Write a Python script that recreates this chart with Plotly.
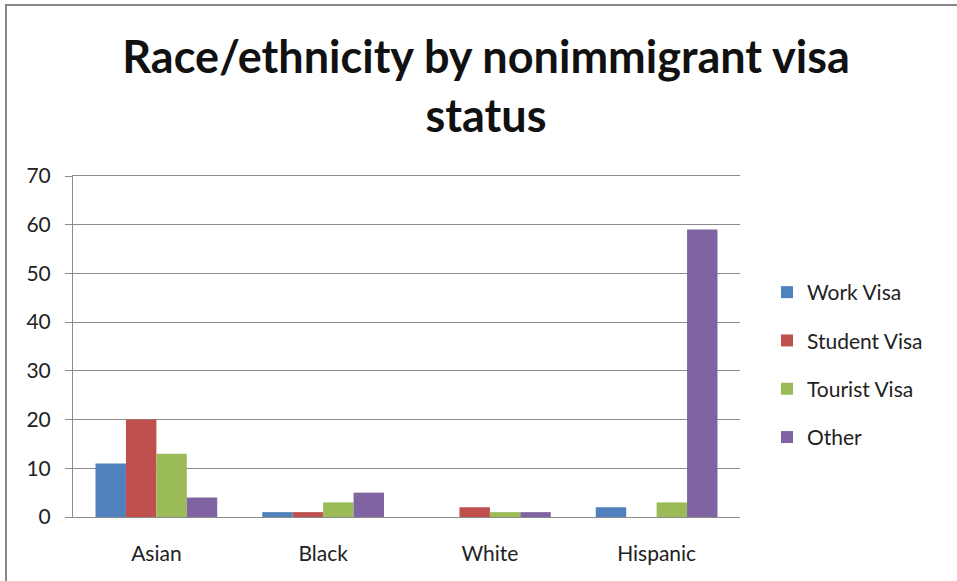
import plotly.graph_objects as go

categories = ["Asian", "Black", "White", "Hispanic"]
work_visa = [11, 1, 0, 2]
student_visa = [20, 1, 2, 0]
tourist_visa = [13, 3, 1, 3]
other = [4, 5, 1, 59]

series = [
    ("Work Visa", work_visa, "#4F81BD"),
    ("Student Visa", student_visa, "#C0504D"),
    ("Tourist Visa", tourist_visa, "#9BBB59"),
    ("Other", other, "#8064A2"),
]

FONT = "Lato, 'Open Sans', sans-serif"

fig = go.Figure()
for i, (name, vals, col) in enumerate(series):
    fig.add_trace(go.Bar(x=categories, y=vals, name=name, marker_color=col,
                         marker_line_width=0, legendgroup=str(i)))

L, R, T, B = 73, 740, 176, 517
W, H = 957, 581
pw, ph = R - L, B - T

fig.update_layout(
    width=W, height=H,
    margin=dict(l=L, r=W - R, t=T, b=H - B),
    paper_bgcolor="white", plot_bgcolor="white",
    barmode="group", bargap=0.27, bargroupgap=0,
    font=dict(family=FONT, size=21, color="#222"),
    title=dict(text="<b>Race/ethnicity by nonimmigrant visa<br>status</b>",
               x=486 / W, xanchor="center", y=1 - 73 / H, yanchor="middle",
               font=dict(family=FONT, size=45, color="#111")),
    legend=dict(x=(767 - L) / pw, xanchor="left", y=(B - 365) / ph, yanchor="middle",
                font=dict(family=FONT, size=21, color="#222"), tracegroupgap=18,
                bgcolor="rgba(0,0,0,0)", itemwidth=30),
    showlegend=True,
)
fig.update_yaxes(range=[0, 70], dtick=10, showgrid=True, gridcolor="#8c8c8c", gridwidth=1,
                 showline=True, linecolor="#8c8c8c", linewidth=1, ticks="outside",
                 ticklen=7, tickcolor="#8c8c8c", zeroline=False, ticklabelstandoff=10,
                 tickfont=dict(family=FONT, size=21, color="#222"))
fig.update_xaxes(showline=True, linecolor="#8c8c8c", linewidth=1, ticks="",
                 mirror=True, ticklabelstandoff=18,
                 tickfont=dict(family=FONT, size=21, color="#222"))

# outer chart frame
fig.add_shape(type="rect", xref="paper", yref="paper",
              x0=(6 - L) / pw, x1=(962 - L) / pw,
              y0=(B - 590) / ph, y1=(B - 5) / ph,
              line=dict(color="#888888", width=2), fillcolor="rgba(0,0,0,0)", layer="below")

fig.write_html("out.html")
